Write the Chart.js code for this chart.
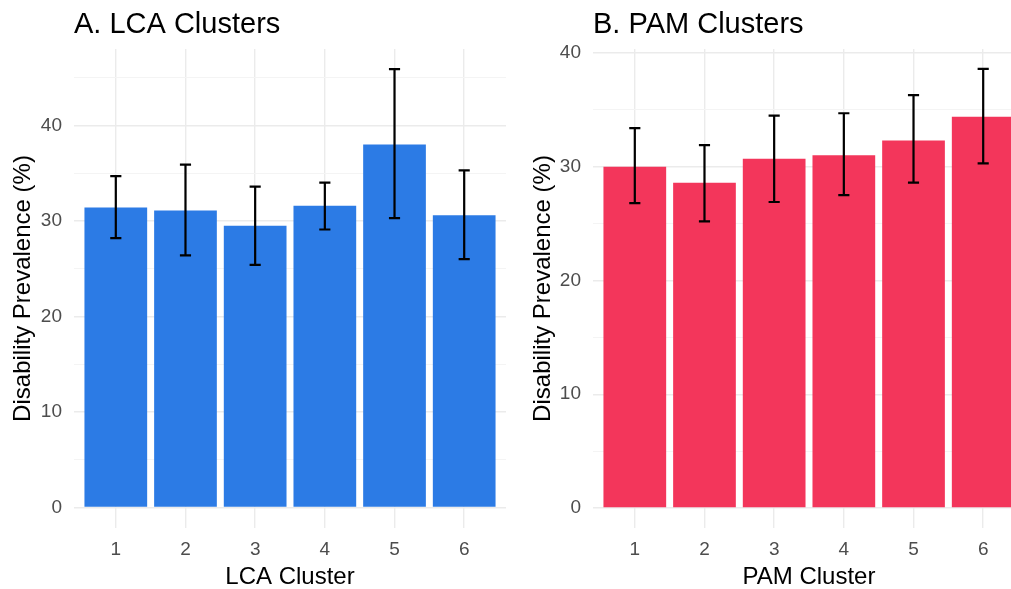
<!DOCTYPE html>
<html lang="en">
<head>
<meta charset="utf-8" />
<title>Disability Prevalence by Cluster</title>
<script src="https://cdn.jsdelivr.net/npm/chart.js@4.4.0/dist/chart.umd.min.js"></script>
<style>
  html, body { margin: 0; padding: 0; background: #fff; overflow: hidden; }
  #wrap { position: relative; width: 1011px; height: 589px; overflow: hidden; }
  #lca { position: absolute; left: 0; top: 0; }
  #pam { position: absolute; left: 505px; top: 0; }
</style>
</head>
<body>
<div id="wrap">
  <canvas id="lca" width="506" height="589"></canvas>
  <canvas id="pam" width="530" height="589"></canvas>
</div>
<script>
// clusters on the x axis (same for both panels)
const clusters = [1, 2, 3, 4, 5, 6];

// A. LCA clusters: prevalence and 95% CI
const lcaPrev  = [31.4, 31.1, 29.5, 31.6, 38.0, 30.6];
const lcaLower = [28.2, 26.4, 25.4, 29.1, 30.3, 26.0];
const lcaUpper = [34.7, 35.9, 33.6, 34.0, 45.9, 35.3];

// B. PAM clusters
const pamPrev  = [30.0, 28.6, 30.7, 31.0, 32.3, 34.4];
const pamLower = [26.8, 25.2, 26.9, 27.5, 28.6, 30.3];
const pamUpper = [33.4, 31.9, 34.5, 34.7, 36.3, 38.6];

// y gridlines (labelled every 10)
const lcaGrid = [0, 5, 10, 15, 20, 25, 30, 35, 40, 45];
const pamGrid = [0, 5, 10, 15, 20, 25, 30, 35, 40];

const FONT = "'Liberation Sans', Arial, sans-serif";

function panel(id, o) {
  const errorBars = {
    id: 'errorBars',
    afterDatasetsDraw(chart) {
      const { ctx, scales: { x, y } } = chart;
      const half = x.getPixelForValue(1.08) - x.getPixelForValue(1);
      ctx.save();
      ctx.strokeStyle = '#000';
      ctx.lineWidth = 2.2;
      clusters.forEach((c, i) => {
        const cx = x.getPixelForValue(c);
        const lo = y.getPixelForValue(o.lower[i]);
        const hi = y.getPixelForValue(o.upper[i]);
        ctx.beginPath();
        ctx.moveTo(cx, hi); ctx.lineTo(cx, lo);
        ctx.moveTo(cx - half, hi); ctx.lineTo(cx + half, hi);
        ctx.moveTo(cx - half, lo); ctx.lineTo(cx + half, lo);
        ctx.stroke();
      });
      ctx.restore();
    }
  };
  const panelTitle = {
    id: 'panelTitle',
    afterDraw(chart) {
      const ctx = chart.ctx;
      ctx.save();
      ctx.font = '29px ' + FONT;
      ctx.fillStyle = '#000';
      ctx.textBaseline = 'alphabetic';
      ctx.fillText(o.title, chart.chartArea.left, 33);
      ctx.restore();
    }
  };

  return new Chart(document.getElementById(id), {
    type: 'bar',
    data: {
      datasets: [{
        data: clusters.map((c, i) => ({ x: c, y: o.values[i] })),
        backgroundColor: o.color,
        borderWidth: 0,
        barPercentage: 0.9,
        categoryPercentage: 1.0
      }]
    },
    options: {
      responsive: false,
      animation: false,
      devicePixelRatio: 1,
      layout: { padding: { top: 49, left: 0, right: o.padRight, bottom: 0 } },
      plugins: { legend: { display: false }, tooltip: { enabled: false } },
      scales: {
        x: {
          type: 'linear',
          offset: false,
          min: 0.4,
          max: 6.6,
          afterBuildTicks: s => { s.ticks = clusters.map(v => ({ value: v })); },
          afterFit: s => { s.height = 61; },
          grid: { offset: false, drawTicks: false, color: '#EBEBEB', lineWidth: 1.4 },
          border: { display: false },
          ticks: { padding: 10, color: '#4D4D4D', font: { family: FONT, size: 19 } },
          title: {
            display: true, text: o.xTitle, color: '#000',
            font: { family: FONT, size: 24, lineHeight: 1 },
            padding: { top: 0, bottom: 0 }
          }
        },
        y: {
          min: o.yMin,
          max: o.yMax,
          afterBuildTicks: s => { s.ticks = o.grid.map(v => ({ value: v })); },
          afterFit: s => { s.width = o.yWidth; },
          grid: {
            drawTicks: false,
            color: c => (c.tick && c.tick.value % 10 === 0) ? '#EBEBEB' : '#F4F4F4',
            lineWidth: c => (c.tick && c.tick.value % 10 === 0) ? 1.4 : 1
          },
          border: { display: false },
          ticks: {
            padding: 12, color: '#4D4D4D', font: { family: FONT, size: 19 },
            callback: v => (v % 10 === 0 ? v : '')
          },
          title: {
            display: true, text: 'Disability Prevalence (%)', color: '#000',
            font: { family: FONT, size: 24 },
            padding: { top: o.yTitlePad, bottom: 0 }
          }
        }
      }
    },
    plugins: [errorBars, panelTitle]
  });
}

panel('lca', {
  title: 'A. LCA Clusters', xTitle: 'LCA Cluster',
  values: lcaPrev, lower: lcaLower, upper: lcaUpper, grid: lcaGrid,
  color: '#2C7BE5', yMin: -2.15, yMax: 48.0,
  yWidth: 74, yTitlePad: 9, padRight: 0
});

panel('pam', {
  title: 'B. PAM Clusters', xTitle: 'PAM Cluster',
  values: pamPrev, lower: pamLower, upper: pamUpper, grid: pamGrid,
  color: '#F3365B', yMin: -1.76, yMax: 40.35,
  yWidth: 88, yTitlePad: 24, padRight: 10
});
</script>
</body>
</html>
